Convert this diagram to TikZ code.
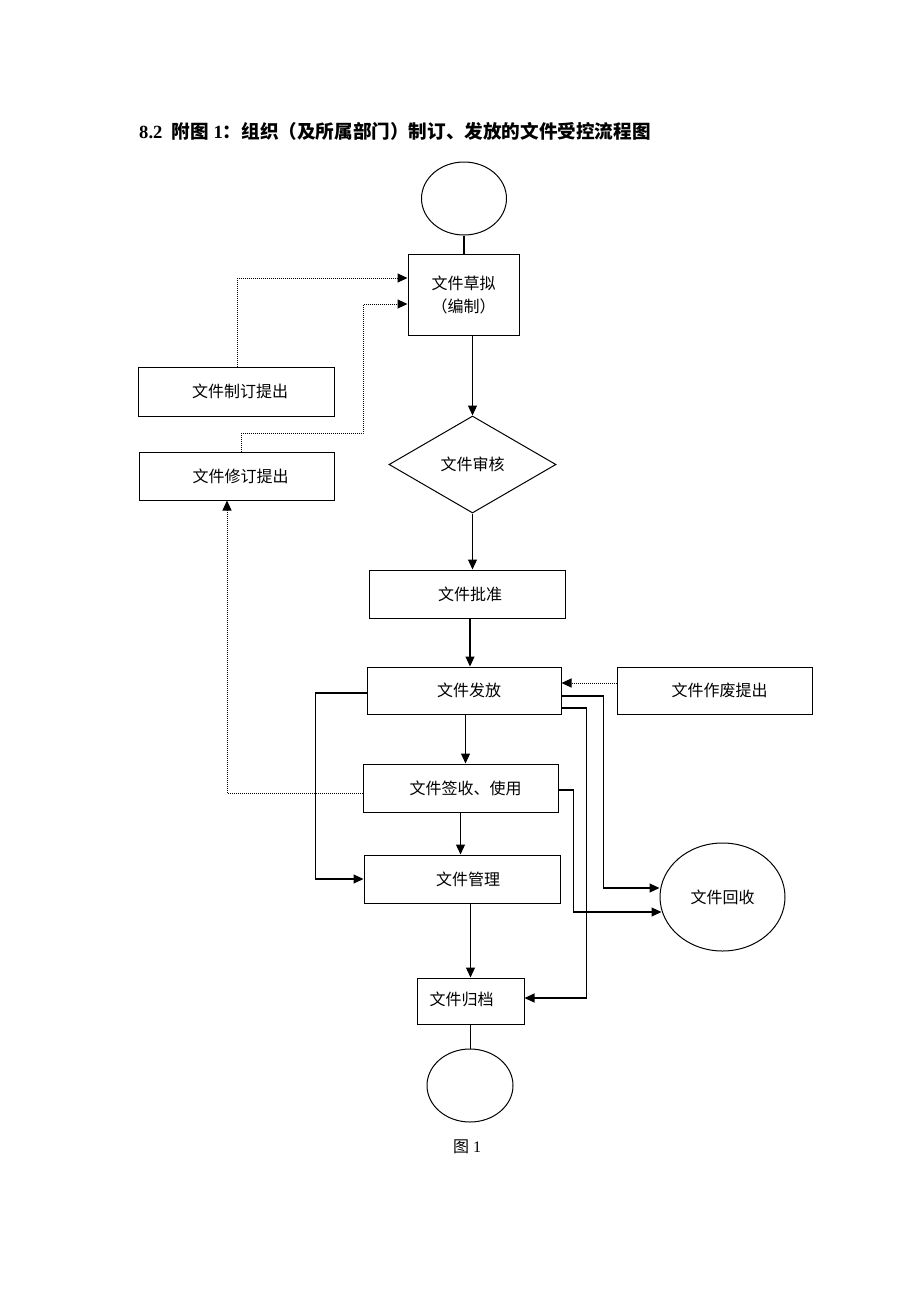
\documentclass[tikz,border=0pt]{standalone}
\usepackage{fontspec}
\setmainfont{Liberation Serif}
\newfontfamily\cjk{Noto Sans CJK SC}
\usetikzlibrary{shapes.geometric,arrows.meta}
\tikzset{
  box/.style={draw,line width=1pt,inner sep=0pt,font={\cjk\fontsize{16}{23}\selectfont}},
  oval/.style={draw,line width=1pt,ellipse,inner sep=0pt,font={\cjk\fontsize{16}{23}\selectfont}},
  arr/.style={line width=1.1pt,-{Triangle[length=10pt,width=9pt]}},
  plain/.style={line width=1.1pt},
  dotarr/.style={line width=1pt,dash pattern=on 1pt off 1pt,-{Triangle[length=10pt,width=9pt]}},
}
\begin{document}
\begin{tikzpicture}[x=1pt,y=-1pt]
\useasboundingbox (0,0) rectangle (920,1302);
% title
\node[anchor=west,inner sep=0pt] (title) at (139,131)
  {\fontsize{18.6}{22}\selectfont\bfseries 8.2\ \ {\cjk 附图} 1{\cjk ：组织（及所属部门）制订、发放的文件受控流程图}};
% nodes
\node[oval,minimum width=85,minimum height=73] (start) at (464,198.5) {};
\node[box,minimum width=111,minimum height=81,align=center] (caoni) at (463.5,294.5) {文件草拟\\（编制）};
\node[box,minimum width=196,minimum height=49] (zhiding) at (236,391.5) {\raisebox{-2pt}{\hspace*{8pt}文件制订提出}};
\node[box,minimum width=195,minimum height=48] (xiuding) at (236.5,476) {\raisebox{-2pt}{\hspace*{8pt}文件修订提出}};
\node[box,diamond,minimum width=167,minimum height=97] (shenhe) at (472.5,464.5) {\raisebox{-2pt}{文件审核}};
\node[box,minimum width=196,minimum height=48] (pizhun) at (467,594) {\raisebox{-2pt}{\hspace*{6pt}文件批准}};
\node[box,minimum width=194,minimum height=47] (fafang) at (464,690.5) {\raisebox{-2pt}{\hspace*{10pt}文件发放}};
\node[box,minimum width=195,minimum height=47] (zuofei) at (714.5,690.5) {\raisebox{-2pt}{\hspace*{10pt}文件作废提出}};
\node[box,minimum width=195,minimum height=48] (qianshou) at (460.5,788) {\raisebox{-2pt}{\hspace*{10pt}文件签收、使用}};
\node[box,minimum width=196,minimum height=48] (guanli) at (462,879) {\raisebox{-2pt}{\hspace*{12pt}文件管理}};
\node[oval,minimum width=125,minimum height=108] (huishou) at (722.5,897) {文件回收};
\node[box,minimum width=107,minimum height=46] (guidang) at (470.5,1001) {\raisebox{4pt}{\hspace*{-18pt}文件归档}};
\node[oval,minimum width=86,minimum height=73] (end) at (470,1085.5) {};
\node[inner sep=0pt,font={\fontsize{16}{18}\selectfont}] (fig) at (467,1147) {{\cjk 图} 1};
% main flow
\draw[plain] (start.south) -- (start.south |- caoni.north);
\draw[arr] (caoni.south -| shenhe.north) -- (shenhe.north);
\draw[arr] (shenhe.south) -- (shenhe.south |- pizhun.north);
\draw[arr] ([xshift=3pt]pizhun.south) -- ([xshift=3pt]pizhun.south |- fafang.north);
\draw[arr] ([xshift=1.5pt]fafang.south) -- ([xshift=1.5pt]fafang.south |- qianshou.north);
\draw[arr] (qianshou.south) -- (qianshou.south |- guanli.north);
\draw[arr] (guanli.south -| guidang.north) -- (guidang.north);
\draw[plain] (guidang.south) -- (guidang.south |- end.north);
% dotted feedback
\draw[dotarr] ([xshift=1pt]zhiding.north) |- ([yshift=16.5pt]caoni.west);
\coordinate (bend) at (363,433);
\draw[dotarr] ([xshift=4.5pt]xiuding.north) |- (bend) |- ([yshift=-9.5pt]caoni.west);
\draw[dotarr] ([yshift=-5pt]qianshou.west) -| ([xshift=-9.5pt]xiuding.south);
\draw[dotarr] ([yshift=7.5pt]zuofei.west) -- ([yshift=7.5pt]zuofei.west -| fafang.east);
% side connectors
\draw[arr] ([yshift=-2.5pt]fafang.west) -- ++(-51,0) |- (guanli.west);
\draw[arr] ([yshift=-5.5pt]fafang.east) -- ++(42,0) |- ([yshift=9pt]huishou.west);
\draw[arr] ([yshift=-17.5pt]fafang.east) -- ++(25,0) |- ([yshift=3pt]guidang.east);
\draw[arr] ([yshift=-2pt]qianshou.east) -- ++(15,0) |- ([yshift=-15pt,xshift=2pt]huishou.west);
\end{tikzpicture}
\end{document}
